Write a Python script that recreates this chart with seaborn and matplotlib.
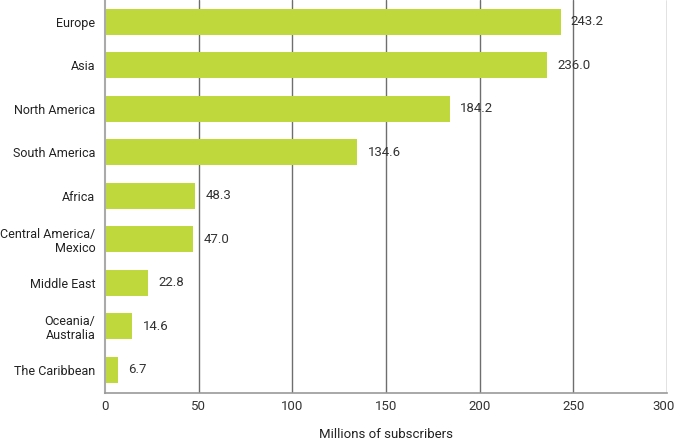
import matplotlib
matplotlib.use("Agg")
import matplotlib.pyplot as plt
import matplotlib.transforms as mtransforms
import seaborn as sns
import pandas as pd

regions = ["Europe", "Asia", "North America", "South America", "Africa",
           "Central America/\nMexico", "Middle East", "Oceania/\nAustralia", "The Caribbean"]
subscribers = [243.2, 236.0, 184.2, 134.6, 48.3, 47.0, 22.8, 14.6, 6.7]
x_ticks = [0, 50, 100, 150, 200, 250, 300]

sns.set_theme(style="white")
plt.rcParams['font.family'] = ['Roboto', 'DejaVu Sans']

df = pd.DataFrame({"region": regions, "value": subscribers})

fig = plt.figure(figsize=(6.76, 4.42), dpi=100)
ax = fig.add_axes([105/676, 1 - 393/442, (667-105)/676, 393/442])

for x in x_ticks[1:]:
    ax.axvline(x, color="#6e6e6e", lw=1.0, zorder=0)

sns.barplot(data=df, x="value", y="region", color="#bfd83c", saturation=1,
            width=0.6, ax=ax, zorder=2, edgecolor="none")

for i, v in enumerate(subscribers):
    ax.text(v + 5.5, i, f"{v:.1f}", va="center", ha="left", fontsize=9.5, color="#333333")

ax.set_xlim(0, 300)
ax.set_ylim(8.53, -0.5)
ax.set_xticks(x_ticks)
ax.set_xticklabels([str(t) for t in x_ticks], fontsize=9.5, color="#333333")
ax.tick_params(axis="y", labelsize=9, labelcolor="#222222", length=0, pad=7)
ax.tick_params(axis="x", length=0, pad=5)
for lbl in ax.get_yticklabels():
    lbl.set_multialignment("right")
    lbl.set_linespacing(1.1)
last = ax.get_xticklabels()[-1]
last.set_transform(last.get_transform() + mtransforms.ScaledTranslation(-3/100, 0, fig.dpi_scale_trans))
ax.set_ylabel("")
ax.set_xlabel("Millions of subscribers", fontsize=9.5, color="#222222", labelpad=11)

for s in ["top", "right"]:
    ax.spines[s].set_visible(False)
ax.spines["left"].set_color("#aaaaaa")
ax.spines["left"].set_linewidth(1.5)
ax.spines["bottom"].set_color("#999999")
ax.spines["bottom"].set_linewidth(1.2)

fig.savefig("out.png", dpi=100)
